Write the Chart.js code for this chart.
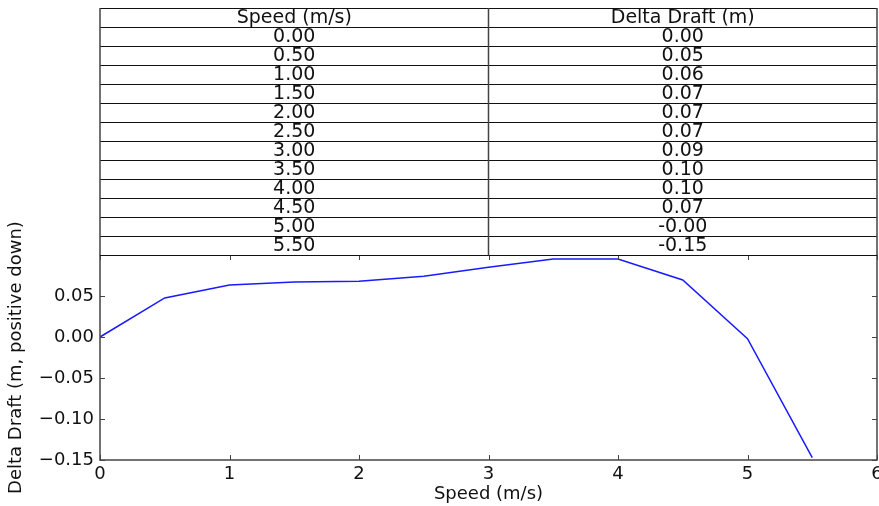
<!DOCTYPE html>
<html>
<head>
<meta charset="utf-8">
<script src="https://cdn.jsdelivr.net/npm/chart.js@4/dist/chart.umd.min.js"></script>
<style>
  html, body { margin: 0; padding: 0; background: #fff; }
</style>
</head>
<body>
<canvas id="myChart" width="879" height="506"></canvas>
<script>
// data
const speeds = [0, 0.5, 1, 1.5, 2, 2.5, 3, 3.5, 4, 4.5, 5, 5.5];
const draft = [0, 0.0476, 0.0634, 0.067, 0.068, 0.074, 0.085, 0.095, 0.095, 0.0695, -0.002, -0.147];
const tableHeaders = ['Speed (m/s)', 'Delta Draft (m)'];
const speedLabels = ['0.00', '0.50', '1.00', '1.50', '2.00', '2.50', '3.00', '3.50', '4.00', '4.50', '5.00', '5.50'];
const draftLabels = ['0.00', '0.05', '0.06', '0.07', '0.07', '0.07', '0.09', '0.10', '0.10', '0.07', '-0.00', '-0.15'];

const FONT = 'DejaVu Sans';
const AXIS = '#444';

// inward ticks on all four sides plus the frame
const frame = {
    id: 'frame',
    afterDraw(chart) {
        const c = chart.ctx, a = chart.chartArea;
        const xs = chart.scales.x, ys = chart.scales.y;
        c.save();
        c.strokeStyle = AXIS;
        c.lineWidth = 1;
        c.beginPath();
        xs.ticks.forEach(t => {
            const px = Math.round(xs.getPixelForValue(t.value)) + 0.5;
            c.moveTo(px, a.bottom); c.lineTo(px, a.bottom - 5);
            c.moveTo(px, a.top); c.lineTo(px, a.top + 5);
        });
        ys.ticks.forEach(t => {
            const py = Math.round(ys.getPixelForValue(t.value)) + 0.5;
            c.moveTo(a.left, py); c.lineTo(a.left + 5, py);
            c.moveTo(a.right, py); c.lineTo(a.right - 5, py);
        });
        c.stroke();
        c.lineWidth = 1.5;
        c.strokeRect(a.left, a.top, a.right - a.left, a.bottom - a.top);
        c.restore();
    }
};

// table above the axes
const table = {
    id: 'table',
    afterDraw(chart) {
        const c = chart.ctx, a = chart.chartArea;
        const top = 8, rowH = (a.top - top) / (speeds.length + 1);
        const mid = (a.left + a.right) / 2;
        c.save();
        c.fillStyle = '#fff';
        c.fillRect(a.left, top, a.right - a.left, a.top - top);
        c.strokeStyle = '#111';
        c.lineWidth = 1;
        c.beginPath();
        for (let i = 0; i <= speeds.length + 1; i++) {
            const y = Math.round(top + i * rowH) + 0.5;
            c.moveTo(a.left, y); c.lineTo(a.right, y);
        }
        c.stroke();
        c.strokeStyle = AXIS;
        c.lineWidth = 1.5;
        c.beginPath();
        [a.left, mid, a.right].forEach(x => {
            c.moveTo(x, top); c.lineTo(x, a.top);
        });
        c.stroke();
        c.fillStyle = '#111';
        c.font = '19px "' + FONT + '"';
        c.textAlign = 'center';
        c.textBaseline = 'middle';
        const colC = [(a.left + mid) / 2, (mid + a.right) / 2];
        const rows = [tableHeaders].concat(speedLabels.map((s, i) => [s, draftLabels[i]]));
        rows.forEach((r, i) => {
            const y = top + i * rowH + rowH / 2 + 1;
            c.fillText(r[0], colC[0], y);
            c.fillText(r[1], colC[1], y);
        });
        c.restore();
    }
};

const ctx = document.getElementById('myChart').getContext('2d');
const myChart = new Chart(ctx, {
    type: 'line',
    data: {
        datasets: [{
            data: speeds.map((s, i) => ({x: s, y: draft[i]})),
            borderColor: '#1a1aff',
            borderWidth: 1.5,
            pointRadius: 0,
            fill: false,
            tension: 0
        }]
    },
    options: {
        responsive: false,
        animation: false,
        devicePixelRatio: 1,
        layout: { padding: { top: 255, right: 2, left: 0, bottom: 0 } },
        plugins: { legend: { display: false }, tooltip: { enabled: false } },
        scales: {
            x: {
                type: 'linear',
                min: 0, max: 6,
                ticks: { stepSize: 1, color: '#111', font: { family: FONT, size: 18 }, padding: 4 },
                grid: { display: false, drawTicks: false },
                border: { display: false },
                title: { display: true, text: 'Speed (m/s)', color: '#111', font: { family: FONT, size: 18 }, padding: { top: 0, bottom: 1 } },
                afterFit: s => { s.height = 46; s.paddingLeft = 0; s.paddingRight = 0; }
            },
            y: {
                min: -0.15, max: 0.10,
                ticks: {
                    stepSize: 0.05, color: '#111', font: { family: FONT, size: 18 }, padding: 6,
                    callback: v => Math.abs(v - 0.1) < 1e-9 ? '' : (v < -1e-9 ? '\u2212' + Math.abs(v).toFixed(2) : Math.abs(v).toFixed(2))
                },
                grid: { display: false, drawTicks: false },
                border: { display: false },
                title: { display: true, text: 'Delta Draft (m, positive down)', color: '#111', font: { family: FONT, size: 18 }, padding: { top: 6, bottom: 0 } },
                afterFit: s => { s.width = 100; s.paddingTop = 0; s.paddingBottom = 0; }
            }
        }
    },
    plugins: [frame, table]
});
</script>
</body>
</html>
